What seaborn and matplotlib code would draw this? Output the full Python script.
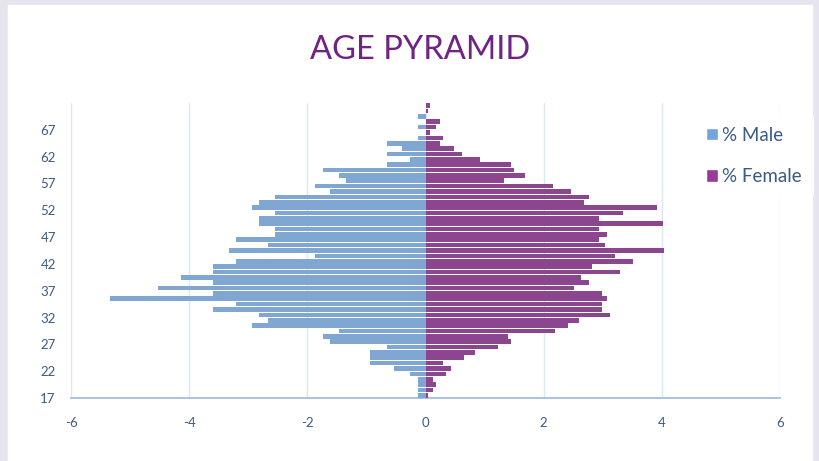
import matplotlib.pyplot as plt
import pandas as pd
import seaborn as sns
from matplotlib import font_manager
from matplotlib.patches import Patch, Rectangle

ages = list(range(17, 72))

male_pct = [
    -0.13, -0.13, -0.13, -0.13, -0.27, -0.54, -0.94, -0.94, -0.94, -0.66,
    -1.61, -1.74, -1.47, -2.93, -2.67, -2.81, -3.60, -3.20, -5.34, -3.60,
    -4.53, -3.60, -4.13, -3.60, -3.60, -3.20, -1.87, -3.33, -2.67, -3.20,
    -2.54, -2.54, -2.81, -2.81, -2.54, -2.93, -2.81, -2.54, -1.61, -1.87,
    -1.34, -1.47, -1.74, -0.66, -0.27, -0.66, -0.40, -0.66, -0.13, 0.0,
    -0.13, 0.0, -0.13, 0.0, 0.0,
]

female_pct = [
    0.04, 0.12, 0.17, 0.12, 0.35, 0.43, 0.30, 0.65, 0.83, 1.22,
    1.45, 1.40, 2.20, 2.42, 2.59, 3.12, 2.99, 2.99, 3.07, 2.99,
    2.51, 2.77, 2.63, 3.30, 2.82, 3.52, 3.21, 4.04, 3.03, 2.94,
    3.07, 2.94, 4.02, 2.94, 3.35, 3.92, 2.69, 2.77, 2.47, 2.15,
    1.33, 1.68, 1.49, 1.45, 0.92, 0.61, 0.48, 0.25, 0.30, 0.08,
    0.17, 0.25, 0.0, 0.04, 0.08,
]

series_names = ["% Male", "% Female"]
x_ticks = [-6, -4, -2, 0, 2, 4, 6]
y_ticks = [17, 22, 27, 32, 37, 42, 47, 52, 57, 62, 67]

MALE_COLOR = "#72a6de"
FEMALE_COLOR = "#963a9b"
TICK_COLOR = "#3b5a86"

df = pd.DataFrame({
    "age": ages + ages,
    "pct": male_pct + female_pct,
    "sex": [series_names[0]] * len(ages) + [series_names[1]] * len(ages),
})

sns.set_style("white")
plt.rcParams["font.family"] = ["Lato", "DejaVu Sans"]

fig = plt.figure(figsize=(8.19, 4.61), dpi=100)
fig.patch.set_facecolor("#e5e4ef")
fig.patches.append(Rectangle((8 / 819, 0), 804 / 819, 456 / 461,
                             transform=fig.transFigure, color="white", zorder=-1))

ax = fig.add_axes([71 / 819, 1 - 398 / 461, 709 / 819, 295 / 461])
ax.set_facecolor("white")

sns.barplot(data=df, x="pct", y="age", hue="sex", orient="h", native_scale=True,
            dodge=False, palette=[MALE_COLOR, FEMALE_COLOR], width=0.86,
            errorbar=None, legend=False, ax=ax, linewidth=0, zorder=3)

ax.set_xlim(-6, 6)
ax.set_ylim(16.5, 71.5)
ax.set_xticks(x_ticks)
ax.set_xticklabels([str(t) for t in x_ticks])
# labels sit on the lower edge of each age band, as in the source chart
ax.set_yticks([t - 0.5 for t in y_ticks])
ax.set_yticklabels([str(t) for t in y_ticks])
ax.set_xlabel("")
ax.set_ylabel("")

ax.grid(axis="x", color="#dbe7f5", linewidth=1, zorder=0)
ax.grid(axis="y", visible=False)
for side in ["left", "right", "top"]:
    ax.spines[side].set_visible(False)
ax.spines["bottom"].set_color("#9fbfe6")
ax.spines["bottom"].set_linewidth(1.3)
ax.tick_params(axis="both", length=0, labelsize=9.5, labelcolor=TICK_COLOR)
ax.tick_params(axis="x", pad=14)
ax.tick_params(axis="y", pad=11)

title_font = font_manager.FontProperties(family="Lato", size=23.5)
fig.text(420 / 819, 1 - 59 / 461, "AGE PYRAMID", ha="center", va="baseline",
         fontproperties=title_font, color="#6f2384")

handles = [Patch(facecolor=MALE_COLOR, label=series_names[0]),
           Patch(facecolor=FEMALE_COLOR, label=series_names[1])]
leg = ax.legend(handles=handles, loc="upper left", bbox_to_anchor=(0.866, 0.99),
                frameon=True, fontsize=13.5, labelspacing=1.3, handlelength=0.65,
                handleheight=0.65, handletextpad=0.25, borderpad=0.6,
                labelcolor=TICK_COLOR)
leg.get_frame().set_facecolor("white")
leg.get_frame().set_edgecolor("white")
leg.get_frame().set_alpha(1)
leg.set_zorder(5)

fig.savefig("out.png", dpi=100, facecolor=fig.get_facecolor())
plt.close(fig)
